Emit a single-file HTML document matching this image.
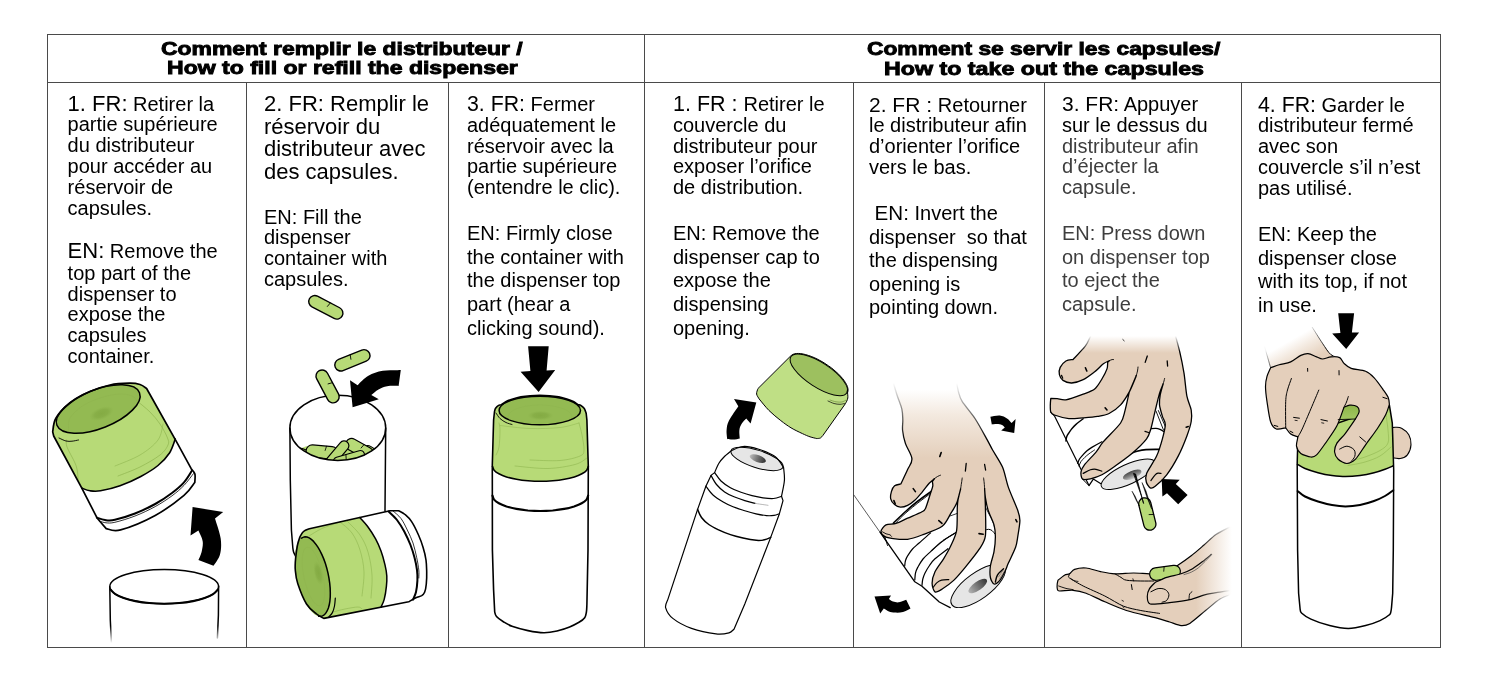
<!DOCTYPE html>
<html lang="fr"><head><meta charset="utf-8"><title>Distributeur de capsules</title>
<style>
html,body{margin:0;padding:0;background:#fff;}
#page{position:relative;width:1500px;height:695px;overflow:hidden;background:#fff;font-family:"Liberation Sans",Arial,sans-serif;color:#000;}
.t{position:absolute;white-space:pre;margin:0;}
.t b.n{font-weight:normal;font-size:22px;}
.ln{position:absolute;background:#4a4a4a;}
.h{position:absolute;white-space:pre;font-weight:bold;font-size:18.5px;line-height:20px;-webkit-text-stroke:0.9px #000;transform-origin:0 0;will-change:transform;}
#art{position:absolute;left:0;top:0;}
#txt{position:absolute;left:0;top:0;width:1500px;height:695px;will-change:transform;}

</style></head>
<body>
<div id="page">
<div class="ln" style="left:46.5px;top:34px;width:1394.5px;height:1.2px"></div>
<div class="ln" style="left:46.5px;top:82px;width:1394.5px;height:1.2px"></div>
<div class="ln" style="left:46.5px;top:646.5px;width:1394.5px;height:1.2px"></div>
<div class="ln" style="left:46.5px;top:34px;width:1.2px;height:613px"></div>
<div class="ln" style="left:1439.6px;top:34px;width:1.2px;height:613px"></div>
<div class="ln" style="left:643.5px;top:34px;width:1.2px;height:613px"></div>
<div class="ln" style="left:246px;top:82px;width:1.2px;height:565px"></div>
<div class="ln" style="left:448px;top:82px;width:1.2px;height:565px"></div>
<div class="ln" style="left:853px;top:82px;width:1.2px;height:565px"></div>
<div class="ln" style="left:1044px;top:82px;width:1.2px;height:565px"></div>
<div class="ln" style="left:1241px;top:82px;width:1.2px;height:565px"></div>
<div class="h" id="h1a" style="left:161.4px;top:39.09px;transform:scaleX(1.2387);">Comment remplir le distributeur /</div>
<div class="h" id="h1b" style="left:166.6px;top:58.29px;transform:scaleX(1.2453);">How to fill or refill the dispenser</div>
<div class="h" id="h2a" style="left:866.6px;top:39.09px;transform:scaleX(1.2315);">Comment se servir les capsules/</div>
<div class="h" id="h2b" style="left:883.5px;top:59.09px;transform:scaleX(1.2553);">How to take out the capsules</div>

<div id="txt">
<div class="t" style="left:67.6px;top:91.57px;font-size:20px;line-height:24.0px;"><span style="font-size:22px">1. FR:</span> Retirer la</div>
<div class="t" style="left:67.6px;top:112.37px;font-size:20px;line-height:24.0px;">partie supérieure</div>
<div class="t" style="left:67.6px;top:133.17px;font-size:20px;line-height:24.0px;">du distributeur</div>
<div class="t" style="left:67.6px;top:153.97px;font-size:20px;line-height:24.0px;">pour accéder au</div>
<div class="t" style="left:67.6px;top:174.77px;font-size:20px;line-height:24.0px;">réservoir de</div>
<div class="t" style="left:67.6px;top:195.57px;font-size:20px;line-height:24.0px;">capsules.</div>
<div class="t" style="left:67.6px;top:239.07px;font-size:20px;line-height:24.0px;"><span style="font-size:22px">EN:</span> Remove the</div>
<div class="t" style="left:67.6px;top:260.77px;font-size:20px;line-height:24.0px;">top part of the</div>
<div class="t" style="left:67.6px;top:281.52px;font-size:20px;line-height:24.0px;">dispenser to</div>
<div class="t" style="left:67.6px;top:302.27px;font-size:20px;line-height:24.0px;">expose the</div>
<div class="t" style="left:67.6px;top:323.02px;font-size:20px;line-height:24.0px;">capsules</div>
<div class="t" style="left:67.6px;top:343.77px;font-size:20px;line-height:24.0px;">container.</div>
<div class="t" style="left:264px;top:90.88px;font-size:22px;line-height:26.4px;">2. FR: Remplir le</div>
<div class="t" style="left:264px;top:113.68px;font-size:22px;line-height:26.4px;">réservoir du</div>
<div class="t" style="left:264px;top:136.48px;font-size:22px;line-height:26.4px;">distributeur avec</div>
<div class="t" style="left:264px;top:159.28px;font-size:22px;line-height:26.4px;">des capsules.</div>
<div class="t" style="left:264px;top:204.67px;font-size:20px;line-height:24.0px;">EN: Fill the</div>
<div class="t" style="left:264px;top:225.47px;font-size:20px;line-height:24.0px;">dispenser</div>
<div class="t" style="left:264px;top:246.27px;font-size:20px;line-height:24.0px;">container with</div>
<div class="t" style="left:264px;top:267.07px;font-size:20px;line-height:24.0px;">capsules.</div>
<div class="t" style="left:467px;top:92.07px;font-size:20px;line-height:24.0px;"><span style="font-size:21.3px">3. FR:</span> Fermer</div>
<div class="t" style="left:467px;top:112.87px;font-size:20px;line-height:24.0px;">adéquatement le</div>
<div class="t" style="left:467px;top:133.67px;font-size:20px;line-height:24.0px;">réservoir avec la</div>
<div class="t" style="left:467px;top:154.47px;font-size:20px;line-height:24.0px;">partie supérieure</div>
<div class="t" style="left:467px;top:175.27px;font-size:20px;line-height:24.0px;">(entendre le clic).</div>
<div class="t" style="left:467px;top:221.07px;font-size:20px;line-height:24.0px;">EN: Firmly close</div>
<div class="t" style="left:467px;top:244.72px;font-size:20px;line-height:24.0px;">the container with</div>
<div class="t" style="left:467px;top:268.37px;font-size:20px;line-height:24.0px;">the dispenser top</div>
<div class="t" style="left:467px;top:292.02px;font-size:20px;line-height:24.0px;">part (hear a</div>
<div class="t" style="left:467px;top:315.67px;font-size:20px;line-height:24.0px;">clicking sound).</div>
<div class="t" style="left:673px;top:92.07px;font-size:20px;line-height:24.0px;"><span style="font-size:21.5px">1. FR : </span>Retirer le</div>
<div class="t" style="left:673px;top:112.87px;font-size:20px;line-height:24.0px;">couvercle du</div>
<div class="t" style="left:673px;top:133.67px;font-size:20px;line-height:24.0px;">distributeur pour</div>
<div class="t" style="left:673px;top:154.47px;font-size:20px;line-height:24.0px;">exposer l’orifice</div>
<div class="t" style="left:673px;top:175.27px;font-size:20px;line-height:24.0px;">de distribution.</div>
<div class="t" style="left:673px;top:221.07px;font-size:20px;line-height:24.0px;">EN: Remove the</div>
<div class="t" style="left:673px;top:244.72px;font-size:20px;line-height:24.0px;">dispenser cap to</div>
<div class="t" style="left:673px;top:268.37px;font-size:20px;line-height:24.0px;">expose the</div>
<div class="t" style="left:673px;top:292.02px;font-size:20px;line-height:24.0px;">dispensing</div>
<div class="t" style="left:673px;top:315.67px;font-size:20px;line-height:24.0px;">opening.</div>
<div class="t" style="left:869px;top:92.57px;font-size:20px;line-height:24.0px;"><span style="font-size:21px">2. FR : </span>Retourner</div>
<div class="t" style="left:869px;top:113.37px;font-size:20px;line-height:24.0px;">le distributeur afin</div>
<div class="t" style="left:869px;top:134.17px;font-size:20px;line-height:24.0px;">d’orienter l’orifice</div>
<div class="t" style="left:869px;top:154.97px;font-size:20px;line-height:24.0px;">vers le bas.</div>
<div class="t" style="left:869px;top:200.87px;font-size:20px;line-height:24.0px;"> <span style="font-size:20.6px">EN:</span> Invert the</div>
<div class="t" style="left:869px;top:224.52px;font-size:20px;line-height:24.0px;">dispenser  so that</div>
<div class="t" style="left:869px;top:248.17px;font-size:20px;line-height:24.0px;">the dispensing</div>
<div class="t" style="left:869px;top:271.82px;font-size:20px;line-height:24.0px;">opening is</div>
<div class="t" style="left:869px;top:295.47px;font-size:20px;line-height:24.0px;">pointing down.</div>
<div class="t" style="left:1062px;top:92.07px;font-size:20px;line-height:24.0px;"><span style="font-size:21px">3. FR:</span> Appuyer</div>
<div class="t" style="left:1062px;top:112.87px;font-size:20px;line-height:24.0px;">sur le dessus du</div>
<div class="t" style="left:1062px;top:133.67px;font-size:20px;line-height:24.0px;color:#3e3e3e;">distributeur afin</div>
<div class="t" style="left:1062px;top:154.47px;font-size:20px;line-height:24.0px;color:#3e3e3e;">d’éjecter la</div>
<div class="t" style="left:1062px;top:175.27px;font-size:20px;line-height:24.0px;color:#3e3e3e;">capsule.</div>
<div class="t" style="left:1062px;top:221.07px;font-size:20px;line-height:24.0px;color:#3e3e3e;">EN: Press down</div>
<div class="t" style="left:1062px;top:244.72px;font-size:20px;line-height:24.0px;color:#3e3e3e;">on dispenser top</div>
<div class="t" style="left:1062px;top:268.37px;font-size:20px;line-height:24.0px;color:#3e3e3e;">to eject the</div>
<div class="t" style="left:1062px;top:292.02px;font-size:20px;line-height:24.0px;color:#3e3e3e;">capsule.</div>
<div class="t" style="left:1258px;top:92.57px;font-size:20px;line-height:24.0px;"><span style="font-size:21.3px">4. FR:</span> Garder le</div>
<div class="t" style="left:1258px;top:113.37px;font-size:20px;line-height:24.0px;">distributeur fermé</div>
<div class="t" style="left:1258px;top:134.17px;font-size:20px;line-height:24.0px;">avec son</div>
<div class="t" style="left:1258px;top:154.97px;font-size:20px;line-height:24.0px;">couvercle s’il n’est</div>
<div class="t" style="left:1258px;top:175.77px;font-size:20px;line-height:24.0px;">pas utilisé.</div>
<div class="t" style="left:1258px;top:222.07px;font-size:20px;line-height:24.0px;">EN: Keep the</div>
<div class="t" style="left:1258px;top:245.72px;font-size:20px;line-height:24.0px;">dispenser close</div>
<div class="t" style="left:1258px;top:269.37px;font-size:20px;line-height:24.0px;">with its top, if not</div>
<div class="t" style="left:1258px;top:293.02px;font-size:20px;line-height:24.0px;">in use.</div>
</div>
<svg id="art" width="1500" height="695" viewBox="0 0 1500 695">
<g id="p1" stroke-linecap="round" stroke-linejoin="round">
<defs><radialGradient id="spotG"><stop offset="0" stop-color="#84ab43"/><stop offset="0.55" stop-color="#86ad46" stop-opacity="0.85"/><stop offset="1" stop-color="#8cb34b" stop-opacity="0"/></radialGradient></defs>
<path d="M52.7,431.9C53.2,429.6 53.1,422.8 56,418C58.9,413.2 64.3,407.4 70,403C75.7,398.6 83.3,394.5 90,391.5C96.7,388.5 103.5,386.4 110,385C116.5,383.6 124.3,383.3 129.3,383.2C134.3,383.1 137.1,383.6 140,384.5C142.9,385.4 145.5,387.8 146.6,388.5L177,442.6L191.2,468.7C191.8,469.6 194.3,471.7 194.9,474C195.5,476.3 194.8,481 194.8,482.4C193,484.5 190.6,489.8 184,495.3C177.4,500.8 165.8,509.7 155.2,515.5C144.6,521.3 128.8,527.7 120.6,529.9C112.4,532.1 108.6,528.8 106.2,528.6L99.8,521.2L96.9,517.6L81.8,488.1L53.7,436Z" fill="#fff"/>
<path d="M52.7,431.9C53.2,429.6 53.1,422.8 56,418C58.9,413.2 64.3,407.4 70,403C75.7,398.6 83.3,394.5 90,391.5C96.7,388.5 103.5,386.4 110,385C116.5,383.6 124.3,383.3 129.3,383.2C134.3,383.1 137.1,383.6 140,384.5C142.9,385.4 145.5,387.8 146.6,388.5L175.3,439C174.3,441.3 172.4,448.6 169.5,453C166.6,457.4 162.8,461.6 158,465.5C153.2,469.4 147.1,473.1 140.8,476.5C134.5,479.9 126.7,483.4 120,485.8C113.3,488.2 105.5,490 100.5,490.8C95.5,491.6 93.1,491.2 90,490.8C86.9,490.4 83.2,488.6 81.8,488.1L53.7,436Z" fill="#b7da77"/>
<ellipse cx="98.2" cy="409" rx="44.4" ry="19.3" fill="#93ba52" transform="rotate(-21.6 98.2 409)"/>
<path d="M68.5,431C68.8,428.8 67.4,422.3 70,418C72.6,413.7 78.2,408.6 84,405C89.8,401.4 98.7,398.3 105,396.5C111.3,394.7 117.3,394 122,394C126.7,394 130.5,395.3 133,396.5C135.5,397.7 136.3,400.2 137,401" fill="none" stroke="#8fb54f" stroke-width="0.7"/>
<ellipse cx="101.5" cy="413.5" rx="13" ry="6.2" fill="url(#spotG)" transform="rotate(-20.8 101.5 413.5)"/>
<path d="M137,401C139.2,402.8 146.2,408.2 150,412C153.8,415.8 157.1,419.7 160,424C162.9,428.3 166.2,434.5 167.5,438C168.8,441.5 169.2,442.2 168,445C166.8,447.8 164.7,451.3 160,455C155.3,458.7 147,463.5 140,467C133,470.5 121.7,474.5 118,476" fill="none" stroke="#8fb54f" stroke-width="0.7"/>
<path d="M66.5,440C66.6,441.2 65.6,443.2 67,447C68.4,450.8 73.2,458.8 75,463C76.8,467.2 77,469.2 77.5,472C78,474.8 77.9,478.7 78,480" fill="none" stroke="#8fb54f" stroke-width="0.7"/>
<path d="M163,424C162.2,426.7 161.8,434.8 158,440C154.2,445.2 147.2,450.7 140,455C132.8,459.3 119.2,464.2 115,466" fill="none" stroke="#8fb54f" stroke-width="0.6"/>
<path d="M52.7,431.9C53.2,429.6 53.1,422.8 56,418C58.9,413.2 64.3,407.4 70,403C75.7,398.6 83.3,394.5 90,391.5C96.7,388.5 103.5,386.4 110,385C116.5,383.6 124.3,383.3 129.3,383.2C134.3,383.1 137.1,383.6 140,384.5C142.9,385.4 145.5,387.8 146.6,388.5L177,442.6L191.2,468.7C191.8,469.6 194.3,471.7 194.9,474C195.5,476.3 194.8,481 194.8,482.4C193,484.5 190.6,489.8 184,495.3C177.4,500.8 165.8,509.7 155.2,515.5C144.6,521.3 128.8,527.7 120.6,529.9C112.4,532.1 108.6,528.8 106.2,528.6L99.8,521.2L96.9,517.6L81.8,488.1L53.7,436Z" fill="none" stroke="#000" stroke-width="1.7"/>
<path d="M175.3,439C174.3,441.3 172.4,448.6 169.5,453C166.6,457.4 162.8,461.6 158,465.5C153.2,469.4 147.1,473.1 140.8,476.5C134.5,479.9 126.7,483.4 120,485.8C113.3,488.2 105.5,490 100.5,490.8C95.5,491.6 93.1,491.2 90,490.8C86.9,490.4 83.2,488.6 81.8,488.1" fill="none" stroke="#000" stroke-width="1.6"/>
<ellipse cx="98.2" cy="409" rx="44.4" ry="19.3" fill="none" stroke="#000" stroke-width="1.5" transform="rotate(-21.6 98.2 409)"/>
<path d="M59,438C60.2,438.5 63.8,440.5 66,441C68.2,441.5 69.9,441.4 72,441.2C74.1,441 77.4,440.2 78.5,440" fill="none" stroke="#000" stroke-width="0.9"/>
<path d="M96.9,517.6C98.2,518 102,519.6 105,520C108,520.4 109.9,520.9 114.9,519.8C119.9,518.7 128.3,516.1 135,513.5C141.7,510.9 149,507.4 155.2,504C161.4,500.6 167.2,496.6 172,493C176.8,489.4 180.7,486.1 184,482.4C187.3,478.7 190.6,472.7 191.9,470.8" fill="none" stroke="#000" stroke-width="2.0"/>
<path d="M99.8,521.2C100.8,521.5 103.5,522.6 106,522.8C108.5,523 110.1,523.4 114.9,522.3C119.7,521.2 128.3,518.6 135,516C141.7,513.4 149,510 155.2,506.6C161.4,503.2 167.2,499.3 172,495.8C176.8,492.3 180.4,489.1 184,485.4C187.6,481.7 191.8,475.6 193.4,473.7" fill="none" stroke="#000" stroke-width="0.8"/>
<path d="M192.6,507.1L223.2,511.9L215,518.4C215.9,521.8 219.9,532.5 220.7,538.5C221.5,544.5 221.2,549.9 220,554.4C218.8,558.9 214.6,563.9 213.5,565.8L198.4,560C198.9,558.7 200.9,555.1 201.6,552C202.3,548.9 203.2,545 202.7,541.4C202.2,537.8 199.1,532.4 198.4,530.6L190.5,535.6Z" fill="#000"/>
<path d="M109.8,586.7L111.3,642L217.4,637L218.6,586Z" fill="#fff"/>
<ellipse cx="164.2" cy="586.6" rx="54.4" ry="17.1" fill="#fff" stroke="#000" stroke-width="1.4"/>
<path d="M217.8,589.6C217,590.3 215.3,592.7 213.1,594.1C210.9,595.5 208,596.9 204.6,598C201.3,599.2 197.3,600.3 193,601.1C188.8,601.9 184,602.6 179.2,603C174.4,603.5 169.2,603.7 164.2,603.7C159.2,603.7 154,603.5 149.2,603C144.4,602.6 139.6,601.9 135.4,601.1C131.1,600.3 127.1,599.2 123.8,598C120.4,596.9 117.5,595.5 115.3,594.1C113.1,592.7 111.4,590.3 110.6,589.6" fill="none" stroke="#000" stroke-width="2.1"/>
<defs><linearGradient id="fadeB" x1="0" y1="586" x2="0" y2="643" gradientUnits="userSpaceOnUse"><stop offset="0" stop-color="#000"/><stop offset="0.7" stop-color="#000"/><stop offset="1" stop-color="#000" stop-opacity="0"/></linearGradient></defs>
<path d="M109.8,586.7L110.3,620L111.4,643" fill="none" stroke="url(#fadeB)" stroke-width="1.5"/>
<path d="M218.6,586L218.4,615L217.4,638" fill="none" stroke="url(#fadeB)" stroke-width="1.5"/>
</g>
<g id="p2" stroke-linecap="round" stroke-linejoin="round">
<g transform="translate(325.8 307.3) rotate(27.5)"><path d="M-12.5,-6L12.5,-6A6,6 0 0 1 12.5,6L-12.5,6A6,6 0 0 1 -12.5,-6Z" fill="#b7da77" stroke="#000" stroke-width="1.4"/><path d="M2,-6L1,-1.5" fill="none" stroke="#000" stroke-width="0.8"/></g>
<g transform="translate(352.4 360.3) rotate(-22)"><path d="M-12.5,-6L12.5,-6A6,6 0 0 1 12.5,6L-12.5,6A6,6 0 0 1 -12.5,-6Z" fill="#b7da77" stroke="#000" stroke-width="1.4"/><path d="M0,-6L-1,-1.5" fill="none" stroke="#000" stroke-width="0.8"/></g>
<path d="M289.9,428L290.3,480L291.4,530L292.8,547.5C292.9,548.2 293.1,550.5 293.6,552C294.1,553.5 295.4,555.8 295.7,556.5L385,556L385.7,428Z" fill="#fff"/>
<ellipse cx="337.8" cy="427.9" rx="47.9" ry="32.6" fill="#fff"/>
<defs><clipPath id="cpile"><ellipse cx="337.8" cy="427.9" rx="47.9" ry="32.6"/></clipPath></defs>
<g clip-path="url(#cpile)">
<path d="M300,450C300.9,447.6 305.5,446.2 309,446C312.5,445.8 331.7,448.2 335,448C338.3,447.8 340.2,444.6 342,444C343.8,443.4 350,440.8 353,441.5C356,442.2 370.1,448.1 372,451C373.9,453.9 379.2,468.1 372,470C364.8,471.9 307.2,472 300,470C292.8,468 299.1,452.4 300,450Z" fill="#b7da77"/>
<g transform="translate(304 454) rotate(20)"><path d="M-3.5,-4.5L3.5,-4.5A4.5,4.5 0 0 1 3.5,4.5L-3.5,4.5A4.5,4.5 0 0 1 -3.5,-4.5Z" fill="#b7da77" stroke="#000" stroke-width="1.1"/></g>
<g transform="translate(374 455) rotate(32)"><path d="M-7.5,-5.5L7.5,-5.5A5.5,5.5 0 0 1 7.5,5.5L-7.5,5.5A5.5,5.5 0 0 1 -7.5,-5.5Z" fill="#b7da77" stroke="#000" stroke-width="1.1"/><path d="M-2,-5.5L-3,-1" fill="none" stroke="#000" stroke-width="0.8"/></g>
<g transform="translate(359.5 448.8) rotate(29)"><path d="M-9,-6L9,-6A6,6 0 0 1 9,6L-9,6A6,6 0 0 1 -9,-6Z" fill="#b7da77" stroke="#000" stroke-width="1.2"/><path d="M2,-6L1,-1.5" fill="none" stroke="#000" stroke-width="0.8"/></g>
<g transform="translate(322 452) rotate(5)"><path d="M-9.8,-6.2L9.8,-6.2A6.2,6.2 0 0 1 9.8,6.2L-9.8,6.2A6.2,6.2 0 0 1 -9.8,-6.2Z" fill="#b7da77" stroke="#000" stroke-width="1.2"/><path d="M4,-6.2L3,-1.8" fill="none" stroke="#000" stroke-width="0.8"/></g>
<g transform="translate(337.5 453.5) rotate(-50)"><path d="M-10.2,-4.8L10.2,-4.8A4.8,4.8 0 0 1 10.2,4.8L-10.2,4.8A4.8,4.8 0 0 1 -10.2,-4.8Z" fill="#b7da77" stroke="#000" stroke-width="1.2"/></g>
<g transform="translate(349 458) rotate(-16)"><path d="M-11.8,-4.2L11.8,-4.2A4.2,4.2 0 0 1 11.8,4.2L-11.8,4.2A4.2,4.2 0 0 1 -11.8,-4.2Z" fill="#b7da77" stroke="#000" stroke-width="1.1"/><path d="M-2,-4.2L-3,0.2" fill="none" stroke="#000" stroke-width="0.8"/></g>
</g>
<ellipse cx="337.8" cy="427.9" rx="47.9" ry="32.6" fill="none" stroke="#000" stroke-width="1.5"/>
<path d="M289.9,428L290.3,480L291.4,530L292.8,547.5C292.9,548.2 293.1,550.5 293.6,552C294.1,553.5 295.4,555.8 295.7,556.5" fill="none" stroke="#000" stroke-width="1.5"/>
<path d="M385.7,428L385,511" fill="none" stroke="#000" stroke-width="1.5"/>
<g transform="translate(327.6 386.4) rotate(62)"><path d="M-11.7,-6.1L11.7,-6.1A6.1,6.1 0 0 1 11.7,6.1L-11.7,6.1A6.1,6.1 0 0 1 -11.7,-6.1Z" fill="#b7da77" stroke="#000" stroke-width="1.4"/><path d="M-1,-6.1L-2,-1.6" fill="none" stroke="#000" stroke-width="0.8"/></g>
<path d="M400.8,370.1C397.8,370.2 388.2,369.9 382.8,370.8C377.4,371.8 372.6,373.4 368.4,375.8C364.2,378.2 359.4,383.6 357.6,385.2L350,380.2L352.6,407.2L378.8,399.2L371.3,395C372.5,394.1 375.9,391 378.5,389.5C381.1,388 383.8,386.8 387.1,386.2C390.5,385.6 396.7,385.9 398.6,385.9Z" fill="#000"/>
<path d="M300,536.7C300.6,535.8 301.9,532.8 303.5,531.5C305.1,530.2 308.4,529.2 309.4,528.8L390,510.8L398.7,510.8C399.8,511.4 402.9,512.7 405,514.5C407.1,516.3 409.4,518.2 411.6,521.6C413.9,525 416.6,530.7 418.5,535C420.4,539.3 421.9,543.3 423.1,547.5C424.4,551.7 425.4,555.9 426,560C426.6,564.1 426.6,568 426.7,572C426.8,576 426.6,580.6 426.3,584C426,587.4 425.4,590.3 424.6,592.2C423.8,594.1 423.1,594.7 421.7,595.6C420.2,596.5 418.1,596.7 415.9,597.7C413.7,598.7 409.9,601.1 408.7,601.8L323.8,618.4C322.6,617.7 319.5,616.4 316.6,614C313.7,611.6 309.6,609 306.5,604C303.4,599 299.7,589.5 297.8,583.8C295.9,578.1 295.7,574.4 295.3,570C294.9,565.6 295.3,561.8 295.7,557.6C296.1,553.4 296.8,548.5 297.5,545C298.2,541.5 299.6,538.1 300,536.7Z" fill="#fff"/>
<path d="M300,536.7C300.6,535.8 301.9,532.8 303.5,531.5C305.1,530.2 308.4,529.2 309.4,528.8L359.8,517.6C361.2,519.2 365.4,523.5 368,527C370.6,530.5 373.4,534.9 375.6,538.9C377.8,542.9 379.4,546.7 381,551C382.6,555.3 384,560.6 385,564.8C386,569 386.6,572.4 386.8,576C387,579.6 386.8,582.5 386.4,586.4C386,590.3 385.1,595.9 384.2,599.4C383.3,602.9 381.5,605.9 381,607.2L323.8,618.4C322.6,617.7 319.5,616.4 316.6,614C313.7,611.6 309.6,609 306.5,604C303.4,599 299.7,589.5 297.8,583.8C295.9,578.1 295.7,574.4 295.3,570C294.9,565.6 295.3,561.8 295.7,557.6C296.1,553.4 296.8,548.5 297.5,545C298.2,541.5 299.6,538.1 300,536.7Z" fill="#b7da77"/>
<ellipse cx="312.6" cy="576.6" rx="15.8" ry="40.6" fill="#93ba52" transform="rotate(-12.5 312.6 576.6)"/>
<ellipse cx="318.5" cy="573" rx="4.6" ry="12.5" fill="url(#spotG)" transform="rotate(-12.5 318.5 573)"/>
<ellipse cx="313.5" cy="576.5" rx="9.5" ry="30" fill="none" stroke="#8fb54f" stroke-width="0.6" transform="rotate(-12.5 313.5 576.5)"/>
<path d="M340,522C342,523.8 348.7,528.3 352,533C355.3,537.7 358,543.5 360,550C362,556.5 363.7,564.3 364,572C364.3,579.7 362.3,592 362,596" fill="none" stroke="#8fb54f" stroke-width="0.6"/>
<path d="M347,521C349.2,523.3 356.5,529.8 360,535C363.5,540.2 366,545.3 368,552C370,558.7 371.5,567.3 372,575C372.5,582.7 371.2,594.2 371,598" fill="none" stroke="#8fb54f" stroke-width="0.6"/>
<path d="M309,536C311.2,534.8 316.8,530.8 322,528.5C327.2,526.2 337,523.1 340,522" fill="none" stroke="#8fb54f" stroke-width="0.6"/>
<path d="M333,612C335,611.5 340.8,609.8 345,609C349.2,608.2 355.2,607 358,607C360.8,607 361.3,608.7 362,609" fill="none" stroke="#8fb54f" stroke-width="0.6"/>
<path d="M300,536.7C300.6,535.8 301.9,532.8 303.5,531.5C305.1,530.2 308.4,529.2 309.4,528.8L390,510.8L398.7,510.8C399.8,511.4 402.9,512.7 405,514.5C407.1,516.3 409.4,518.2 411.6,521.6C413.9,525 416.6,530.7 418.5,535C420.4,539.3 421.9,543.3 423.1,547.5C424.4,551.7 425.4,555.9 426,560C426.6,564.1 426.6,568 426.7,572C426.8,576 426.6,580.6 426.3,584C426,587.4 425.4,590.3 424.6,592.2C423.8,594.1 423.1,594.7 421.7,595.6C420.2,596.5 418.1,596.7 415.9,597.7C413.7,598.7 409.9,601.1 408.7,601.8L323.8,618.4C322.6,617.7 319.5,616.4 316.6,614C313.7,611.6 309.6,609 306.5,604C303.4,599 299.7,589.5 297.8,583.8C295.9,578.1 295.7,574.4 295.3,570C294.9,565.6 295.3,561.8 295.7,557.6C296.1,553.4 296.8,548.5 297.5,545C298.2,541.5 299.6,538.1 300,536.7Z" fill="none" stroke="#000" stroke-width="1.6"/>
<path d="M359.8,517.6C361.2,519.2 365.4,523.5 368,527C370.6,530.5 373.4,534.9 375.6,538.9C377.8,542.9 379.4,546.7 381,551C382.6,555.3 384,560.6 385,564.8C386,569 386.6,572.4 386.8,576C387,579.6 386.8,582.5 386.4,586.4C386,590.3 385.1,595.9 384.2,599.4C383.3,602.9 381.5,605.9 381,607.2" fill="none" stroke="#000" stroke-width="1.5"/>
<path d="M301.3,538.2C301.9,537.9 303.7,536.9 305,536.8C306.3,536.8 307.8,537.2 309.2,537.9C310.6,538.7 312.1,539.9 313.6,541.4C315,543 316.5,544.9 317.9,547.1C319.3,549.3 320.7,551.9 321.9,554.6C323.2,557.4 324.4,560.4 325.4,563.5C326.4,566.6 327.3,569.9 328,573.2C328.7,576.4 329.3,579.8 329.7,583.1C330.1,586.3 330.3,589.6 330.3,592.6C330.4,595.6 330.2,598.5 329.9,601.1C329.6,603.6 329,606 328.4,608C327.7,610 326.8,611.8 325.8,613.1C324.9,614.4 323.7,615.3 322.5,615.9C321.3,616.4 319.2,616.2 318.6,616.2" fill="none" stroke="#000" stroke-width="1.5"/>
<path d="M335.3,598.2C335.2,599.5 335,603.6 334.5,606C334,608.4 333.4,610.7 332.4,612.6C331.4,614.5 329.1,616.5 328.5,617.3" fill="none" stroke="#000" stroke-width="1.2"/>
<path d="M388.6,511.5C390,512.9 394.4,516.6 397,520C399.6,523.4 402.1,527.5 404.4,531.7C406.6,535.9 408.8,540.7 410.5,545C412.2,549.3 413.4,553.4 414.5,557.6C415.6,561.8 416.5,566.2 417,570C417.5,573.8 417.6,576.9 417.4,580.6C417.2,584.3 416.7,588.8 416,592C415.3,595.2 413.5,598.3 413,599.6" fill="none" stroke="#000" stroke-width="2.0"/>
<path d="M393,511C394.3,512.2 398.6,515.3 401,518.5C403.4,521.7 405.3,525.9 407.3,530C409.3,534.1 411.4,538.4 413,543C414.6,547.6 415.7,553.1 416.7,557.6C417.7,562.1 418.4,566.6 418.8,570C419.2,573.4 418.8,576.7 418.8,578" fill="none" stroke="#000" stroke-width="0.8"/>
</g>
<g id="p3" stroke-linecap="round" stroke-linejoin="round">
<path d="M528.1,346.2 L548.7,346.2 L546.6,370.5 L555.2,370 L538.6,391.9 L520.6,371.7 L530.4,371Z" fill="#000"/>
<path d="M494.5,411.5L493.6,420L492.3,465L492.4,550L493.6,590L494.7,612C495,612.8 495.1,614.9 496.5,616.5C497.9,618.1 500.4,619.9 503,621.5C505.6,623.1 507.8,624.8 512,626.3C516.2,627.8 522.7,629.5 528,630.6C533.3,631.7 538.9,632.7 543.7,632.8C548.5,632.9 552.7,632 557,631C561.3,630 565.9,628.5 569.6,627C573.3,625.5 576.5,623.8 579,622.3C581.5,620.8 583.5,619.4 584.7,617.7C585.9,616 586,614.2 586.4,612C586.8,609.8 586.8,605.9 586.9,604.7L588,550L588.3,466L586.9,420L586.2,413.5C585.9,412.7 585.2,409.9 584.3,408.5C583.3,407.1 581.5,405.8 580.5,405.2C579.5,404.6 579.3,405.2 578.1,404.6C576.9,404 575.3,402.5 573.4,401.5C571.5,400.6 569.2,399.7 566.8,398.9C564.3,398.2 561.6,397.5 558.7,396.9C555.8,396.4 552.7,396 549.5,395.7C546.4,395.4 543,395.3 539.8,395.3C536.6,395.3 533.2,395.4 530.1,395.7C526.9,396 523.8,396.4 520.9,396.9C518,397.5 515.3,398.2 512.8,398.9C510.4,399.7 508.1,400.6 506.2,401.5C504.3,402.5 502.8,404 501.5,404.6C500.2,405.3 499.6,404.8 498.6,405.4C497.6,406 496.3,407.3 495.6,408.3C494.9,409.3 494.7,411 494.5,411.5Z" fill="#fff"/>
<path d="M494.5,411.5L493.6,420L492.4,466.4C492.8,467 493.1,469 494.1,470.2C495.2,471.5 496.9,472.7 498.9,473.8C501,474.9 503.6,476 506.5,476.9C509.5,477.8 512.9,478.6 516.5,479.2C520,479.9 524,480.4 528,480.7C532,481 536.3,481.2 540.4,481.2C544.5,481.2 548.8,481 552.8,480.7C556.8,480.4 560.8,479.9 564.4,479.2C567.9,478.6 571.3,477.8 574.3,476.9C577.2,476 579.8,474.9 581.9,473.8C583.9,472.7 585.6,471.5 586.7,470.2C587.7,469 588,467 588.3,466.4L586.9,420L586.2,413.5C585.9,412.7 585.2,409.9 584.3,408.5C583.3,407.1 581.5,405.8 580.5,405.2C579.5,404.6 579.3,405.2 578.1,404.6C576.9,404 575.3,402.5 573.4,401.5C571.5,400.6 569.2,399.7 566.8,398.9C564.3,398.2 561.6,397.5 558.7,396.9C555.8,396.4 552.7,396 549.5,395.7C546.4,395.4 543,395.3 539.8,395.3C536.6,395.3 533.2,395.4 530.1,395.7C526.9,396 523.8,396.4 520.9,396.9C518,397.5 515.3,398.2 512.8,398.9C510.4,399.7 508.1,400.6 506.2,401.5C504.3,402.5 502.8,404 501.5,404.6C500.2,405.3 499.6,404.8 498.6,405.4C497.6,406 496.3,407.3 495.6,408.3C494.9,409.3 494.7,411 494.5,411.5Z" fill="#b7da77"/>
<ellipse cx="539.8" cy="410.5" rx="40.7" ry="14.3" fill="#93ba52"/>
<ellipse cx="540.5" cy="415.5" rx="13" ry="4.8" fill="url(#spotG)"/>
<path d="M508,417C508.3,416.4 508.5,414.5 509.6,413.3C510.6,412.1 512.2,410.9 514.1,409.9C516,408.9 518.5,408 521.2,407.3C523.9,406.6 527,406 530.1,405.6C533.2,405.2 536.7,405 540,405C543.3,405 546.8,405.2 549.9,405.6C553,406 556.1,406.6 558.8,407.3C561.5,408 564,408.9 565.9,409.9C567.8,410.9 569.4,412.1 570.4,413.3C571.5,414.5 571.7,416.4 572,417" fill="none" stroke="#8fb54f" stroke-width="0.6"/>
<path d="M499,423C499.2,424.2 500,426 500,430C500,434 499.7,442.8 499,447C498.3,451.2 496.5,453.7 496,455" fill="none" stroke="#8fb54f" stroke-width="0.6"/>
<path d="M579,423C579.5,425 581.2,430.5 582,435C582.8,439.5 584.3,446.5 584,450C583.7,453.5 584,454.2 580,456C576,457.8 568.3,459.8 560,460.5C551.7,461.2 535,460.1 530,460" fill="none" stroke="#8fb54f" stroke-width="0.6"/>
<path d="M587,458C585,459.1 581.5,462.8 575,464.5C568.5,466.2 558,468.2 548,468.5C538,468.8 520.5,466.4 515,466" fill="none" stroke="#8fb54f" stroke-width="0.6"/>
<path d="M500,425.5C505,426 520,428.2 530,428.5C540,428.8 551.8,428.4 560,427.5C568.2,426.6 575.8,423.8 579,423" fill="none" stroke="#8fb54f" stroke-width="0.5"/>
<path d="M494.5,411.5L493.6,420L492.3,465L492.4,550L493.6,590L494.7,612C495,612.8 495.1,614.9 496.5,616.5C497.9,618.1 500.4,619.9 503,621.5C505.6,623.1 507.8,624.8 512,626.3C516.2,627.8 522.7,629.5 528,630.6C533.3,631.7 538.9,632.7 543.7,632.8C548.5,632.9 552.7,632 557,631C561.3,630 565.9,628.5 569.6,627C573.3,625.5 576.5,623.8 579,622.3C581.5,620.8 583.5,619.4 584.7,617.7C585.9,616 586,614.2 586.4,612C586.8,609.8 586.8,605.9 586.9,604.7L588,550L588.3,466L586.9,420L586.2,413.5C585.9,412.7 585.2,409.9 584.3,408.5C583.3,407.1 581.5,405.8 580.5,405.2C579.5,404.6 579.3,405.2 578.1,404.6C576.9,404 575.3,402.5 573.4,401.5C571.5,400.6 569.2,399.7 566.8,398.9C564.3,398.2 561.6,397.5 558.7,396.9C555.8,396.4 552.7,396 549.5,395.7C546.4,395.4 543,395.3 539.8,395.3C536.6,395.3 533.2,395.4 530.1,395.7C526.9,396 523.8,396.4 520.9,396.9C518,397.5 515.3,398.2 512.8,398.9C510.4,399.7 508.1,400.6 506.2,401.5C504.3,402.5 502.8,404 501.5,404.6C500.2,405.3 499.6,404.8 498.6,405.4C497.6,406 496.3,407.3 495.6,408.3C494.9,409.3 494.7,411 494.5,411.5Z" fill="none" stroke="#000" stroke-width="1.6"/>
<ellipse cx="539.8" cy="410.5" rx="40.7" ry="14.3" fill="none" stroke="#000" stroke-width="1.5"/>
<path d="M588.3,466.4C588,467 587.7,469 586.7,470.2C585.6,471.5 583.9,472.7 581.9,473.8C579.8,474.9 577.2,476 574.3,476.9C571.3,477.8 567.9,478.6 564.4,479.2C560.8,479.9 556.8,480.4 552.8,480.7C548.8,481 544.5,481.2 540.4,481.2C536.3,481.2 532,481 528,480.7C524,480.4 520,479.9 516.5,479.2C512.9,478.6 509.5,477.8 506.5,476.9C503.6,476 501,474.9 498.9,473.8C496.9,472.7 495.2,471.5 494.1,470.2C493.1,469 492.8,467 492.5,466.4" fill="none" stroke="#000" stroke-width="1.6"/>
<path d="M588.1,495.6C587.8,496.3 587.5,498.3 586.5,499.6C585.4,500.9 583.8,502.1 581.7,503.3C579.6,504.5 577,505.5 574.1,506.5C571.2,507.4 567.8,508.3 564.2,508.9C560.6,509.6 556.7,510.1 552.7,510.5C548.7,510.8 544.4,511 540.3,511C536.2,511 531.9,510.8 527.9,510.5C523.9,510.1 520,509.6 516.4,508.9C512.8,508.3 509.4,507.4 506.5,506.5C503.6,505.5 501,504.5 498.9,503.3C496.8,502.1 495.2,500.9 494.1,499.6C493.1,498.3 492.8,496.3 492.5,495.6" fill="none" stroke="#000" stroke-width="2.2"/>
<path d="M496,413C496.7,413.9 498.3,416.9 500,418.5C501.7,420.1 504,421.5 506,422.5C508,423.5 511,424.2 512,424.5" fill="none" stroke="#000" stroke-width="0.9"/>
</g>
<g id="p4" stroke-linecap="round" stroke-linejoin="round">
<path d="M757.8,389C757.6,389.8 756.4,392.3 756.6,394C756.8,395.7 758.8,398.2 759.2,399C760.8,400.9 765.4,406.9 769,410.5C772.6,414.1 777.1,417.7 780.8,420.6C784.5,423.5 787.4,425.6 791,427.8C794.6,430 799.2,432.1 802.4,433.6C805.6,435.1 807.6,436 810,436.8C812.4,437.6 815.7,438.3 816.8,438.6C817.4,438.5 819.4,438.5 820.4,438C821.4,437.5 822.4,436 822.8,435.6L845.6,403.4C846,402.5 847.5,400.1 847.8,398C848.1,395.9 847.4,392.2 847.3,391C847.4,391.3 847.5,392.8 847.6,392.7C847.7,392.5 848.1,390.9 848.1,389.9C848.1,388.9 847.8,387.7 847.4,386.5C847,385.3 846.3,384 845.5,382.7C844.7,381.3 843.7,379.9 842.6,378.5C841.4,377.1 840.1,375.6 838.7,374.2C837.2,372.8 835.6,371.3 833.9,369.9C832.3,368.5 830.5,367.1 828.6,365.9C826.8,364.6 824.8,363.3 822.9,362.1C821,361 819,359.9 817,358.9C815.1,358 813.1,357.1 811.2,356.4C809.3,355.7 807.4,355.1 805.7,354.6C803.9,354.1 802.2,353.8 800.7,353.6C799.2,353.4 797.7,353.4 796.4,353.5C795.2,353.6 794,353.9 793.1,354.3C792.2,354.7 791.2,355.6 790.8,355.9Z" fill="#bfdf85" stroke="#000" stroke-width="1.0"/>
<ellipse cx="818.8" cy="374.9" rx="33.3" ry="12.2" fill="#9dc05f" stroke="#000" stroke-width="1.0" transform="rotate(33 818.8 374.9)"/>
<path d="M828,401C829,401.4 832,402.9 834,403.5C836,404.1 838.2,404.3 840,404.3C841.8,404.3 843.8,403.6 844.5,403.5" fill="none" stroke="#000" stroke-width="0.7"/>
<path d="M830,400C831,400.3 834,401.5 836,401.8C838,402.1 840.3,402.3 842,402C843.7,401.7 845.3,400.3 846,400" fill="none" stroke="#5f7f30" stroke-width="0.6"/>
<path d="M756.3,402.6L734,399L738.3,406.2C736.8,408.6 731,416.6 729,420.6C727,424.6 726.9,426.9 726.6,430C726.3,433.1 727.1,437.5 727.2,439C728.2,439.1 730.9,439.7 733,439.6C735.1,439.5 738.7,438.6 739.8,438.4C739.7,437 739.1,432.4 739.4,430C739.7,427.6 740.4,425.9 741.5,424C742.6,422.1 745.4,419.4 746.2,418.5L750.6,423.5Z" fill="#000"/>
<path d="M731.5,450.6C730.2,451.7 726.1,454.9 724,457C721.9,459.1 720.5,460.6 718.9,463.2C717.3,465.8 715.3,471 714.6,472.6L711,475.4L705.9,486.2L697.6,509.4L667.8,599.6C667.5,600.8 664.9,604.8 665.6,607.6C666.4,610.4 668.9,615.3 672.8,618.4C676.7,621.5 685,626.1 691.5,628.4C698,630.7 710.4,633.2 716,633.9C721.6,634.6 726.3,633.5 729,632.8C731.7,632.1 733.2,629.7 734,629.2L744.8,604L770.7,537.4L779.4,513.7L783,500.6L781.5,496.3C782,493.7 784,485.3 784.4,480.5C784.8,475.7 783.7,469.7 783.6,467.5C782.2,465.7 779.3,459.6 775,456.5C770.7,453.4 763.3,450.7 758,449C752.7,447.3 747.4,446.2 743,446.5C738.6,446.8 733.4,449.9 731.5,450.6Z" fill="#fff"/>
<defs><linearGradient id="holeG" x1="0" x2="1" y1="0" y2="0"><stop offset="0" stop-color="#bdbdbd"/><stop offset="0.55" stop-color="#6a6a6a"/><stop offset="1" stop-color="#2e2e2e"/></linearGradient></defs>
<ellipse cx="757" cy="458.9" rx="27.3" ry="8.7" fill="#e6e6e6" stroke="#000" stroke-width="1.0" transform="rotate(17.7 757 458.9)"/>
<ellipse cx="757.8" cy="458.6" rx="8.5" ry="3.5" fill="url(#holeG)" transform="rotate(20 757.8 458.6)"/>
<path d="M731.5,450.6C730.2,451.7 726.1,454.9 724,457C721.9,459.1 720.5,460.6 718.9,463.2C717.3,465.8 715.3,471 714.6,472.6L711,475.4L705.9,486.2L697.6,509.4L667.8,599.6C667.5,600.8 664.9,604.8 665.6,607.6C666.4,610.4 668.9,615.3 672.8,618.4C676.7,621.5 685,626.1 691.5,628.4C698,630.7 710.4,633.2 716,633.9C721.6,634.6 726.3,633.5 729,632.8C731.7,632.1 733.2,629.7 734,629.2L744.8,604L770.7,537.4L779.4,513.7L783,500.6L781.5,496.3C782,493.7 784,485.3 784.4,480.5C784.8,475.7 783.7,469.7 783.6,467.5C782.2,465.7 779.3,459.6 775,456.5C770.7,453.4 763.3,450.7 758,449C752.7,447.3 747.4,446.2 743,446.5C738.6,446.8 733.4,449.9 731.5,450.6Z" fill="none" stroke="#000" stroke-width="1.2"/>
<path d="M714.6,472.6C715.7,474 718.4,478.5 721,481C723.6,483.5 727.1,485.8 730.4,487.7C733.7,489.6 737.4,491 741,492.3C744.6,493.6 748.3,494.7 752,495.6C755.7,496.5 759.4,497.3 763,497.8C766.6,498.3 770.5,498.8 773.6,498.5C776.7,498.2 780.2,496.7 781.5,496.3" fill="none" stroke="#000" stroke-width="1.2"/>
<path d="M711,475.4C711.9,476.9 714.2,481.7 716.5,484.5C718.8,487.3 721.7,489.9 724.6,492C727.5,494.1 730.6,495.4 734,496.8C737.4,498.2 741.3,499.5 744.8,500.6C748.3,501.7 753.3,502.9 755,503.3" fill="none" stroke="#000" stroke-width="1.2"/>
<path d="M755,503.3C756,503.5 758.8,504 761,504.3C763.2,504.6 766.8,505.1 768,505.3" fill="none" stroke="#999" stroke-width="0.7"/>
<path d="M705.9,486.2C707.1,487.7 710.1,492.4 713,495C715.9,497.6 719.9,500.1 723.2,502.1C726.5,504.1 729.4,505.4 733,506.8C736.6,508.2 741,509.5 744.8,510.7C748.6,511.9 752.4,513 756,513.8C759.6,514.6 763.4,515.3 766.4,515.6C769.4,515.9 771.8,515.7 774,515.4C776.2,515.1 778.5,514 779.4,513.7" fill="none" stroke="#000" stroke-width="1.2"/>
<path d="M697.6,509.4C698.2,510.8 699.6,515 701.5,517.5C703.4,520 706,522.5 708.8,524.5C711.5,526.5 714.4,527.9 718,529.6C721.6,531.3 726.2,533.2 730.4,534.6C734.6,536 738.7,537 743,538C747.3,539 752.7,540 756.3,540.3C759.9,540.6 762.1,540.3 764.5,539.8C766.9,539.3 769.7,537.8 770.7,537.4" fill="none" stroke="#000" stroke-width="1.5"/>
</g>
<g id="p5" stroke-linecap="round" stroke-linejoin="round">
<defs>
<linearGradient id="armF5" x1="0" y1="380" x2="0" y2="458" gradientUnits="userSpaceOnUse"><stop offset="0" stop-color="#fff"/><stop offset="0.12" stop-color="#fff"/><stop offset="0.45" stop-color="#f3e9df"/><stop offset="1" stop-color="#e4cfbb"/></linearGradient>
<linearGradient id="armS5" x1="0" y1="383" x2="0" y2="440" gradientUnits="userSpaceOnUse"><stop offset="0" stop-color="#000" stop-opacity="0"/><stop offset="0.3" stop-color="#000" stop-opacity="0.3"/><stop offset="1" stop-color="#000"/></linearGradient>
<linearGradient id="holeG5" x1="0" x2="1" y1="0" y2="0"><stop offset="0" stop-color="#b5b5b5"/><stop offset="0.6" stop-color="#666"/><stop offset="1" stop-color="#333"/></linearGradient>
</defs>
<path d="M990.4,416.8C992,416.6 997,415.3 999.8,415.6C1002.6,415.9 1005,417.3 1007,418.5C1009,419.7 1010.8,422.2 1011.6,423L1015.6,419L1014.2,432.9L1001.2,430.5L1004.8,427.6C1004.3,427.2 1003.3,425.6 1002,425C1000.7,424.4 998.7,424.1 997,424C995.3,423.9 992.7,424.3 991.8,424.4Z" fill="#000"/>
<path d="M874.5,596.5L891,595.5L888.9,599.1C889.6,599.5 891.3,601.1 893,601.6C894.7,602.1 896.8,602.6 899,602.3C901.2,602 905,600.2 906.2,599.8L910.5,608.5C909.2,609.1 905.6,611.3 903,612C900.4,612.7 897.4,612.7 895,612.6C892.6,612.5 890.8,612.1 888.9,611.4C887,610.7 884.6,609 883.8,608.5L880.2,613.5Z" fill="#000"/>
<path d="M853.6,494.6L914.8,581.8L922,586.2L939.3,602L950.8,606L1003,578L985,500L932,489Z" fill="#fff"/>
<ellipse cx="978.1" cy="585.9" rx="32.3" ry="12.9" fill="#e6e6e6" stroke="#000" stroke-width="1.0" transform="rotate(-36 978.1 585.9)"/>
<ellipse cx="977.8" cy="586" rx="11" ry="4.4" fill="url(#holeG5)" transform="rotate(-35 977.8 586)"/>
<path d="M853.6,494.6L880,532.2" fill="none" stroke="#333" stroke-width="0.8"/>
<path d="M880,532.2L914.8,581.8L922,586.2L939.3,602L950.2,607.6" fill="none" stroke="#000" stroke-width="1.3"/>
<path d="M904.7,566C904.8,565.1 905,562.2 905.5,560.5C906,558.8 906.4,557.8 907.6,555.9C908.8,554 910.6,551.1 912.5,549C914.4,546.9 916.1,545.7 919.1,543C922.1,540.3 928.7,534.6 930.6,532.9" fill="none" stroke="#000" stroke-width="1.2"/>
<path d="M914.8,580C914.9,578.8 915,575.1 915.5,573C916,570.9 916.5,569.7 917.7,567.4C919,565.1 920.9,561.6 923,559C925.1,556.4 927.4,554.5 930.6,551.6C933.8,548.7 937.7,544.7 942,541.5C946.3,538.3 954.2,533.8 956.6,532.2" fill="none" stroke="#000" stroke-width="1.2"/>
<path d="M922,585.3C922.1,584.2 922.3,581 922.8,579C923.3,577 923.8,575.5 924.9,573.2C926,571 927.8,567.9 929.5,565.5C931.2,563.1 931.9,561.6 935,558.8C938.1,556 945.8,550.4 947.9,548.7" fill="none" stroke="#000" stroke-width="1.2"/>
<path d="M956.6,532.2C955.2,533.1 950.8,535.6 948,537.5C945.2,539.4 942.7,541.3 940,543.5C937.3,545.7 933.3,549.3 932,550.5" fill="none" stroke="#000" stroke-width="0.6"/>
<path d="M931.8,491C929.5,492.7 922.5,497.5 918,501C913.5,504.5 909.1,508.3 905,512C900.9,515.7 895.4,521.2 893.5,523" fill="none" stroke="#000" stroke-width="1.6"/>
<path d="M930.5,493.5C928.1,495.3 920.6,500.8 916,504.5C911.4,508.2 906.5,512.2 903,515.5C899.5,518.8 896.3,522.6 895,524" fill="none" stroke="#000" stroke-width="0.9"/>
<path d="M881,532.5L886.5,541.5M884.8,536.6L887.5,545.5" fill="none" stroke="#000" stroke-width="0.9"/>
<path d="M985.4,507C986,508.2 987.7,511.5 989,514C990.3,516.5 991.9,519.2 993,522C994.1,524.8 995.1,529.5 995.5,531" fill="none" stroke="#000" stroke-width="0.8"/>
<path d="M985.4,530C985.9,529.9 987.4,529.2 988.5,529.3C989.6,529.4 990.9,529.7 992,530.5C993.1,531.3 994.5,533.4 995,534" fill="none" stroke="#000" stroke-width="1.0"/>
<path d="M950,516L957,513.5M943.5,540L957.5,531.6" fill="none" stroke="#000" stroke-width="0.8"/>
<path d="M892,378C892.8,380.8 895.4,389.9 897,395C898.6,400.1 900.8,404.7 901.8,408.9C902.8,413.1 902.7,416.4 902.8,420C902.9,423.6 902.2,426.6 902.6,430.5C903,434.4 903.9,438.7 905.4,443.4C906.9,448.1 911.5,454.2 911.9,458.6C912.3,463 909.5,465.3 907.6,469.5C905.8,473.7 901.9,481.6 900.8,484C899.8,484.3 896.2,484.5 894.6,485.8C893,487.1 892,489.4 891.4,491.6C890.8,493.8 890.2,496.6 890.7,498.8C891.2,501 893,503.2 894.6,504.6C896.2,506 898.2,507 900.4,507.1C902.6,507.2 905.2,506.5 907.6,505.3C910,504.1 912.4,502.4 914.8,500.2C917.2,498 919.6,495.1 922,492.3C924.4,489.5 927.1,485.6 929.2,483.3C931.3,481 933.6,479.4 934.5,478.6L932.3,481.5C932.4,482.1 933,484.2 932.8,485.8C932.6,487.4 931.6,489.9 930.6,493C929.6,496.1 926.8,505.6 925.6,508.2C924.4,510.8 924.5,510.4 922,511.8C919.5,513.2 911.2,516.6 907.6,518.2C904,519.8 899.1,522.5 896.1,523.4C893.1,524.3 888.1,523.8 886,524.9C883.9,526 881.2,529.8 881,531.4C880.8,533 882.9,535.4 884.6,536.4C886.3,537.4 890,538.2 893.2,538.6C896.4,539 903.6,539.8 907.6,539.3C911.6,538.8 917.2,536.8 922,535C926.8,533.2 938.2,529.3 942.2,526.3C946.2,523.3 948.8,516.6 950.8,513.4C952.8,510.2 955.2,506.7 956.6,503.3C958,499.9 960,491 960.6,489C960.2,490.5 958.5,497.4 958,500C957.5,502.6 957.5,503.3 957.3,507.6C957.1,511.9 957.5,525.3 956.6,530.6C955.7,535.9 952.6,541.9 950.8,545.8C949,549.7 945.8,555.2 943.6,558.8C941.4,562.4 936.6,568.4 935,571.8C933.4,575.2 932.1,580.5 932.1,583.3C932.1,586.1 933.6,591.1 935,591.9C936.4,592.7 939.6,590.6 942.2,589C944.8,587.4 950.5,583.4 953.7,580.4C956.9,577.4 961.6,571.8 965.2,567.4C968.8,563 976.8,553.1 979.6,548.7C982.4,544.3 984.6,541.6 985.4,535.8C986.2,530 985.5,514.2 985.4,507.6C985.3,501 984.7,491.2 984.6,488.5C984.7,489.8 984.9,494.4 985.4,497.5C985.9,500.6 987,506.7 988.2,510.5C989.4,514.3 993,521.3 994,524.9C995,528.5 995.4,532.7 995.4,536.4C995.4,540.1 994.7,547.5 994,551.6C993.3,555.7 990.9,562.4 990.4,566C989.9,569.6 989.9,575 990.4,577.5C990.9,580 992.7,583.6 994,584C995.3,584.4 998.3,582.1 999.8,580.4C1001.3,578.7 1003.6,574.2 1004.8,571.8C1006,569.4 1006.9,566.5 1008.4,563.1C1009.9,559.7 1014.3,551 1015.6,547.3C1016.9,543.6 1017.2,540.1 1017.8,536.4C1018.4,532.7 1019.9,524.2 1019.9,520.6C1019.9,517 1019.4,515.1 1017.8,510.5C1016.2,505.9 1010.5,493.4 1008.4,487.4C1006.3,481.4 1004.8,472.5 1002.6,467.3C1000.4,462.1 994.8,453.9 992.6,450C990.4,446.1 989.2,443.4 986.8,439.1C984.4,434.8 978.7,424.2 975.3,419C971.9,413.8 964.7,405.5 962.3,401.7C959.9,397.9 959.4,395.3 958.5,392C957.6,388.7 956.2,380 955.8,378Z" fill="url(#armF5)" stroke="url(#armS5)" stroke-width="1.3"/>
<path d="M960.6,489C960.8,488 961.2,484.8 961.5,483C961.8,481.2 962.1,478.8 962.2,478" fill="none" stroke="#000" stroke-width="0.9"/>
<path d="M984.6,488.5C984.5,487.6 984.4,484.8 984.2,483C984,481.2 983.7,478.8 983.6,478" fill="none" stroke="#000" stroke-width="0.9"/>
<path d="M934.5,478.6C935,478.2 936.5,477.1 937.5,476.5C938.5,475.9 940,475.4 940.5,475.2" fill="none" stroke="#000" stroke-width="0.9"/>
<path d="M941.2,452.5L939.8,456.5" fill="none" stroke="#000" stroke-width="1.6"/>
<path d="M966.2,463.5L965.4,471" fill="none" stroke="#000" stroke-width="1.3"/>
<path d="M984.6,464.5L985.6,470" fill="none" stroke="#000" stroke-width="1.3"/>
<path d="M913.2,488.6L915.4,491.6" fill="none" stroke="#000" stroke-width="1.6"/>
<path d="M893.9,500.6L895.2,503.8" fill="none" stroke="#000" stroke-width="1.6"/>
<path d="M938.8,520.6L942,523.3" fill="none" stroke="#000" stroke-width="1.6"/>
<path d="M1015.8,519.6L1017,521.8" fill="none" stroke="#000" stroke-width="1.6"/>
<path d="M979,533.6L983.2,534.2" fill="none" stroke="#000" stroke-width="1.6"/>
<path d="M933.4,587C934,586.3 935.6,583.7 937,582.6C938.4,581.5 939.6,580.7 941.6,580.2C943.6,579.7 947.6,579.7 948.8,579.6" fill="none" stroke="#000" stroke-width="1.2"/>
<path d="M995.4,582C995.6,581.2 996.1,578.4 996.6,577C997.1,575.6 997.5,574.8 998.6,573.4C999.8,572 1002.7,569.5 1003.5,568.7" fill="none" stroke="#000" stroke-width="1.4"/>
<path d="M999.5,579L1004.5,571M1001,580L1005.5,572.6M998.5,577L1003,570.5" fill="none" stroke="#444" stroke-width="0.5"/>
<path d="M882.5,531.8C883.1,532.1 884.8,533.3 886,533.8C887.2,534.3 889.1,534.4 890,534.8C890.9,535.2 891.2,536.1 891.5,536.4" fill="none" stroke="#000" stroke-width="0.9"/>
</g>
<g id="p6" stroke-linecap="round" stroke-linejoin="round">
<defs>
<linearGradient id="armF6" x1="0" y1="336" x2="0" y2="353" gradientUnits="userSpaceOnUse"><stop offset="0" stop-color="#fff"/><stop offset="1" stop-color="#e4cfbb"/></linearGradient>
<linearGradient id="armS6" x1="0" y1="336" x2="0" y2="352" gradientUnits="userSpaceOnUse"><stop offset="0" stop-color="#000" stop-opacity="0"/><stop offset="1" stop-color="#000"/></linearGradient>
<linearGradient id="palmF6" x1="1196" y1="0" x2="1232" y2="0" gradientUnits="userSpaceOnUse"><stop offset="0" stop-color="#e4cfbb"/><stop offset="1" stop-color="#fff"/></linearGradient>
<linearGradient id="palmS6" x1="1200" y1="0" x2="1230" y2="0" gradientUnits="userSpaceOnUse"><stop offset="0" stop-color="#000"/><stop offset="1" stop-color="#000" stop-opacity="0"/></linearGradient>
<linearGradient id="holeG6" x1="0" x2="0" y1="0" y2="1"><stop offset="0" stop-color="#444"/><stop offset="0.6" stop-color="#8a8a8a"/><stop offset="1" stop-color="#c8c8c8"/></linearGradient>
</defs>
<path d="M1054.4,415.8L1089,485.6L1093.3,479.1L1100.5,483.4L1150,487L1165,440L1120,400Z" fill="#fff"/>
<ellipse cx="1128.2" cy="474.3" rx="29.4" ry="9.9" fill="#e6e6e6" stroke="#000" stroke-width="1.0" transform="rotate(-24.7 1128.2 474.3)"/>
<ellipse cx="1132.2" cy="474.8" rx="9.9" ry="3.9" fill="url(#holeG6)" transform="rotate(-22 1132.2 474.8)"/>
<path d="M1050.8,412.1L1054.4,415.8L1089,485.6L1093.3,479.1L1100.5,483.6" fill="none" stroke="#000" stroke-width="1.2"/>
<path d="M1082.5,479.1L1089,485.6" fill="none" stroke="#000" stroke-width="1.0"/>
<path d="M1065.9,441C1066.1,440.2 1066.3,437.8 1066.8,436.5C1067.3,435.2 1067.9,434.3 1068.8,433C1069.7,431.7 1070.8,429.9 1072,428.5C1073.2,427.1 1074.1,426 1076,424.4C1077.9,422.8 1082,419.7 1083.2,418.8" fill="none" stroke="#000" stroke-width="1.4"/>
<path d="M1077.7,463.3C1078,462.6 1078.6,460.4 1079.5,459C1080.4,457.6 1082,456 1083.2,454.6C1084.5,453.2 1085.6,452 1087,450.8C1088.4,449.6 1089.3,448.9 1091.8,447.4C1094.3,445.9 1100.2,442.6 1101.9,441.7" fill="none" stroke="#000" stroke-width="1.3"/>
<path d="M1079,466C1079.3,465.2 1080,462.9 1081,461.5C1082,460.1 1083.5,458.7 1084.8,457.4C1086.1,456.1 1087.4,455 1089,453.8C1090.6,452.6 1093.6,450.6 1094.5,450" fill="none" stroke="#000" stroke-width="0.9"/>
<path d="M1129.5,454C1130.8,453.5 1134.2,451.9 1137,451.2C1139.8,450.5 1142.2,449.9 1146,449.6C1149.8,449.3 1157.2,449.4 1159.5,449.4" fill="none" stroke="#000" stroke-width="1.6"/>
<path d="M1150.9,428.7C1151.8,428.6 1154.5,428.3 1156,428.4C1157.5,428.5 1158.7,428.9 1160,429.4C1161.3,429.9 1163.2,431.2 1163.8,431.6" fill="none" stroke="#000" stroke-width="1.3"/>
<path d="M1156,411L1163.5,430M1158.3,410.5L1165.5,427" fill="none" stroke="#000" stroke-width="0.9"/>
<path d="M1121.5,404C1121.9,403.2 1123.2,400.4 1124,399C1124.8,397.6 1126.1,396.1 1126.5,395.5" fill="none" stroke="#000" stroke-width="0.9"/>
<path d="M1091.5,334C1090.8,335.6 1088.4,341.1 1087,343.5C1085.6,345.9 1085.5,346 1083.2,348.7C1080.9,351.4 1074.8,357.7 1073.1,359.5C1071.9,359.8 1068.1,359.7 1065.9,361C1063.8,362.3 1061.3,365.1 1060.2,367.4C1059.1,369.7 1058.9,372.4 1059.4,374.6C1059.9,376.8 1061,379 1063,380.4C1065,381.8 1068.3,383.1 1071.7,383C1075.1,382.9 1079.4,381.6 1083.2,379.7C1087,377.8 1091.3,374.4 1094.7,371.8C1098.1,369.2 1100.9,365.7 1103.4,363.8C1105.9,361.9 1108.5,361.1 1109.5,360.6L1107.7,362.4C1107.6,363.3 1107.8,366.6 1107,368.9C1106.2,371.2 1103.6,376.2 1101.9,379C1100.2,381.8 1097.3,386.9 1094.7,389C1092.1,391.1 1087.2,392.6 1083.2,394.1C1079.2,395.6 1069.5,399.2 1065.9,399.8C1062.3,400.4 1059.4,398.8 1057.3,398.6C1055.2,398.4 1051.7,398.4 1050.8,398.4C1050.7,399.3 1050.3,403.1 1050.3,405C1050.3,406.9 1050.2,410.7 1050.8,412.1C1051.4,413.5 1051.9,414.1 1054.4,415C1056.9,415.9 1064.8,418.2 1068.8,418.6C1072.8,419 1079.2,418.1 1083.2,417.8C1087.2,417.5 1094,417 1097.6,416.4C1101.2,415.8 1105.9,415.1 1109.1,413.5C1112.3,411.9 1117.8,407.9 1120.6,404.9C1123.4,401.9 1127.3,395.5 1129.3,391.9C1131.3,388.3 1134,381.3 1135,379C1136,376.7 1136.1,376 1136.3,375.5L1129.3,391.9C1128.7,394.5 1126.2,406.2 1125,410.6C1123.8,415 1123.6,418.6 1120.6,423C1117.6,427.4 1106.8,437.7 1103.4,441.7C1100,445.7 1098.8,448.6 1096.2,451.8C1093.6,455 1086.7,461.9 1084.6,464.7C1082.5,467.5 1081.3,469.9 1081,471.9C1080.7,473.9 1081.2,478.1 1082.5,479.1C1083.8,480.1 1087.7,479.4 1090.4,478.8C1093.1,478.2 1098.5,476.6 1101.9,474.8C1105.3,473 1110.7,469.2 1114.9,466.2C1119.1,463.2 1127.8,457 1132.2,453.2C1136.6,449.4 1144,442.2 1146.6,438.8C1149.2,435.4 1149.7,432.6 1150.9,428.7C1152.1,424.8 1154,415.5 1155.2,410.6C1156.4,405.7 1158.4,397.1 1159.5,393.4C1160.6,389.7 1162.6,385.3 1163.1,384C1162.7,385.5 1160.7,392.1 1160.2,395C1159.7,397.9 1159.2,401.9 1159.5,404.9C1159.8,407.9 1161.6,413.7 1162.4,416.4C1163.2,419.1 1165.3,421.3 1165.3,424.4C1165.3,427.5 1163.6,434.4 1162.4,438.8C1161.2,443.2 1158.8,451.3 1156.6,456.1C1154.4,460.9 1148,469.8 1146.6,473.4C1145.2,477 1145.8,480 1146.3,482C1146.8,484 1149,487.2 1150.2,487.8C1151.4,488.4 1152.9,488.1 1155.2,486.3C1157.5,484.5 1163.5,479 1166.7,474.8C1169.9,470.6 1175.4,461.5 1178.2,456.1C1181,450.7 1185.1,440.7 1186.9,435.9C1188.7,431.1 1190.6,425.1 1191.2,421.5C1191.8,417.9 1191.8,413.5 1191.2,410C1190.6,406.5 1187.9,401.4 1186.9,396.2C1185.9,391 1185,379.4 1184,373.2C1183,367 1181,357.1 1179.7,351.6C1178.4,346.1 1175.7,336.5 1175,334Z" fill="url(#armF6)" stroke="url(#armS6)" stroke-width="1.3"/>
<path d="M1136.3,375.5C1136.5,374.8 1137.2,372.4 1137.5,371C1137.8,369.6 1137.9,367.7 1138,367" fill="none" stroke="#000" stroke-width="0.9"/>
<path d="M1109.5,360.6C1109.9,360.4 1111.3,359.8 1112,359.6C1112.7,359.4 1113.2,359.6 1113.5,359.6" fill="none" stroke="#000" stroke-width="0.9"/>
<path d="M1163.1,384C1163.2,383.5 1163.8,381.9 1164,381C1164.2,380.1 1164.5,378.9 1164.6,378.5" fill="none" stroke="#000" stroke-width="0.9"/>
<path d="M1147.3,356L1145.2,362.4" fill="none" stroke="#000" stroke-width="1.3"/>
<path d="M1167.2,361L1167.6,366" fill="none" stroke="#000" stroke-width="1.3"/>
<path d="M1085.4,367.8L1086.8,371" fill="none" stroke="#000" stroke-width="1.6"/>
<path d="M1061.6,375.4L1062.7,378.2" fill="none" stroke="#000" stroke-width="1.3"/>
<path d="M1105.1,407.8L1107,410" fill="none" stroke="#000" stroke-width="1.6"/>
<path d="M1186.2,427.2L1188.3,426.5" fill="none" stroke="#000" stroke-width="1.5"/>
<path d="M1145,431.3L1148.5,432.5" fill="none" stroke="#000" stroke-width="1.3"/>
<path d="M1122.8,339.5L1124.2,340.8" fill="none" stroke="#000" stroke-width="0.8"/>
<path d="M1083.2,473.4C1084.4,472.8 1088.3,470.5 1090.4,469.8C1092.5,469.1 1094.1,469.1 1096,469.3C1097.9,469.5 1100.9,470.9 1101.9,471.2" fill="none" stroke="#000" stroke-width="1.2"/>
<path d="M1150.9,480.6C1151.6,479.6 1154,476 1155.2,474.8C1156.4,473.6 1157,473.4 1158,473.2C1159,473 1160.5,473.4 1161,473.4" fill="none" stroke="#000" stroke-width="1.2"/>
<path d="M1161.7,479.1 L1179.7,479.8 L1175.8,484 L1187.6,495 L1178.2,504.3 L1167,493.2 L1162.4,496.4Z" fill="#000"/>
<g transform="translate(1147.3 514) rotate(76)"><path d="M-10.4,-6.1L10.4,-6.1A6.1,6.1 0 0 1 10.4,6.1L-10.4,6.1A6.1,6.1 0 0 1 -10.4,-6.1Z" fill="#b7da77" stroke="#000" stroke-width="1.3"/><path d="M2,-6.1L1,-1.6" fill="none" stroke="#000" stroke-width="0.8"/></g>
<path d="M1133.8,473.5L1135.6,474L1143.6,503.5L1141.4,496Z" fill="#000" stroke="#000" stroke-width="0.8"/>
<path d="M1142.2,482.9L1146,491L1151.6,508.8L1147,497.5Z" fill="#000" stroke="#000" stroke-width="0.5"/>
<path d="M1132.2,491.5L1135,496L1139.4,506L1136.3,500.5Z" fill="#000" stroke="#000" stroke-width="0.5"/>
<path d="M1058,580.2C1058.9,579.5 1062.9,576.1 1064.5,575.2C1066.1,574.3 1068.1,574.6 1069.5,573.8C1070.9,573 1072.3,570.2 1074.6,569.4C1076.9,568.6 1082.5,567.7 1086.1,568C1089.7,568.3 1096.5,570.8 1100.5,571.6C1104.5,572.4 1110.3,573.6 1114.9,573.8C1119.5,574 1128.8,573 1133.6,573C1138.4,573 1145,573.7 1149.4,573.8C1153.8,573.9 1161,575.2 1165,574C1169,572.8 1174.5,567.6 1178.2,565.1C1181.9,562.6 1187.6,558.6 1191.2,555.8C1194.8,553 1200.5,548 1204,545C1207.5,542 1212.1,537.2 1216,534.5C1219.9,531.8 1229.8,527.2 1232,526L1232,594C1230.3,594.7 1223.7,596.7 1220,599C1216.3,601.3 1209.8,607.1 1205.6,610.5C1201.4,613.9 1193.2,621.3 1189.8,623.4C1186.4,625.5 1183.9,625.8 1181.1,625.6C1178.3,625.4 1173.2,623.1 1169.6,622C1166,620.9 1161.2,619.3 1155.2,617.7C1149.2,616.1 1133.5,612.7 1126.4,610.5C1119.3,608.3 1110.4,604.2 1104.8,601.8C1099.2,599.4 1090.5,594.8 1086.1,593.2C1081.7,591.6 1076.8,590.6 1073.1,590.3C1069.4,590 1061.6,591.2 1059.4,591C1057.2,590.8 1057.6,589.9 1057.3,588.9C1057,587.9 1057.1,585.2 1057.2,584C1057.3,582.8 1057.9,580.7 1058,580.2Z" fill="url(#palmF6)" stroke="url(#palmS6)" stroke-width="1.2"/>
<g transform="translate(1165 572.8) rotate(-8)"><path d="M-9.3,-6.2L9.3,-6.2A6.2,6.2 0 0 1 9.3,6.2L-9.3,6.2A6.2,6.2 0 0 1 -9.3,-6.2Z" fill="#b7da77" stroke="#000" stroke-width="1.2"/><path d="M0,-6.2L-1,-1.7" fill="none" stroke="#000" stroke-width="0.8"/></g>
<path d="M1211.4,554.3C1210.2,555.3 1205.3,559.5 1202.7,561.5C1200.1,563.5 1195.6,567 1192.6,568.7C1189.6,570.4 1184.7,572.6 1181.1,573.8C1177.5,575 1170.3,576.2 1166.7,577.4C1163.1,578.6 1156.8,581.7 1155.2,582.4C1154.4,583.3 1150.5,587 1149.4,588.9C1148.3,590.8 1147.2,594 1147.3,596.1C1147.4,598.2 1147.1,603.1 1150.2,604C1153.3,604.9 1164.1,603.2 1169.6,602.6C1175.1,602 1184.8,600.8 1189.8,599.7C1194.8,598.6 1201.2,595.7 1205.6,594.6C1210,593.5 1218,592.4 1221.4,591.8C1224.8,591.2 1228.8,590.7 1230,590.5L1232,560Z" fill="url(#palmF6)"/>
<path d="M1211.4,554.3C1210.2,555.3 1205.3,559.5 1202.7,561.5C1200.1,563.5 1195.6,567 1192.6,568.7C1189.6,570.4 1184.7,572.6 1181.1,573.8C1177.5,575 1170.3,576.2 1166.7,577.4C1163.1,578.6 1156.8,581.7 1155.2,582.4C1154.4,583.3 1150.5,587 1149.4,588.9C1148.3,590.8 1147.2,594 1147.3,596.1C1147.4,598.2 1147.1,603.1 1150.2,604C1153.3,604.9 1164.1,603.2 1169.6,602.6C1175.1,602 1184.8,600.8 1189.8,599.7C1194.8,598.6 1201.2,595.7 1205.6,594.6C1210,593.5 1218,592.4 1221.4,591.8C1224.8,591.2 1228.8,590.7 1230,590.5" fill="none" stroke="url(#palmS6)" stroke-width="1.2"/>
<path d="M1150.9,591.8C1152.1,591.3 1155.7,589 1158.1,588.6C1160.5,588.2 1163.5,588.6 1165.3,589.6C1167.1,590.6 1168.7,592.8 1168.9,594.6C1169.1,596.4 1167.9,599.1 1166.7,600.4C1165.5,601.7 1162.8,601.9 1162,602.2" fill="none" stroke="#000" stroke-width="1.0"/>
<path d="M1069.5,573.8C1069.4,574.1 1068.8,575.4 1068.8,576C1068.8,576.6 1067.5,576.6 1069.5,578C1071.5,579.4 1078.3,583.5 1083.2,586C1088.1,588.5 1099.2,593.2 1104.8,596C1110.4,598.8 1118.5,604.2 1123.5,606.2C1128.5,608.2 1135.8,609.5 1140.8,610.5C1145.8,611.5 1156.9,613 1159.5,613.4" fill="none" stroke="#000" stroke-width="1.0"/>
<path d="M1070.5,578.4C1071.1,578.8 1072.8,580.1 1074,580.6C1075.2,581.1 1077.3,581.3 1078,581.4" fill="none" stroke="#000" stroke-width="0.8"/>
<path d="M1058.7,586C1059.9,586.4 1063.6,587.8 1066,588.4C1068.4,589 1071.9,589.4 1073.1,589.6" fill="none" stroke="#000" stroke-width="0.9"/>
<path d="M1114.9,573.8C1115.9,574.4 1119.1,576.3 1121,577.4C1122.9,578.5 1123.1,579.6 1126.4,580.2C1129.7,580.8 1136.2,580.9 1140.8,581C1145.4,581.1 1151.6,581 1153.8,581" fill="none" stroke="#000" stroke-width="1.0"/>
<path d="M1131.4,584.6L1132.2,589.6" fill="none" stroke="#000" stroke-width="1.0"/>
<path d="M1132.9,578.8L1133.6,581" fill="none" stroke="#000" stroke-width="0.8"/>
<path d="M1189,599.7C1189.1,598.8 1189.1,595.3 1189.6,594C1190.1,592.7 1191.6,592.2 1192,591.8" fill="none" stroke="#000" stroke-width="0.9"/>
<path d="M1122,600.4L1123.5,601.2" fill="none" stroke="#000" stroke-width="0.8"/>
<path d="M1122.8,606.8L1124,607.6" fill="none" stroke="#000" stroke-width="0.8"/>
<path d="M1211.4,554.9C1210.3,556 1207.2,559.4 1205,561.5C1202.8,563.6 1200.7,566 1198.4,567.8C1196.1,569.6 1193.6,571.1 1191.2,572.2C1188.8,573.3 1185.2,574.2 1184,574.6" fill="none" stroke="#444" stroke-width="0.7"/>
</g>
<g id="p7" stroke-linecap="round" stroke-linejoin="round">
<defs>
<linearGradient id="armF7" x1="1284" y1="336" x2="1301" y2="366" gradientUnits="userSpaceOnUse"><stop offset="0" stop-color="#fff"/><stop offset="0.2" stop-color="#fff"/><stop offset="0.55" stop-color="#f3e9df"/><stop offset="1" stop-color="#e4cfbb"/></linearGradient>
<linearGradient id="armS7" x1="1284" y1="334" x2="1301" y2="364" gradientUnits="userSpaceOnUse"><stop offset="0" stop-color="#000" stop-opacity="0"/><stop offset="0.15" stop-color="#000" stop-opacity="0.05"/><stop offset="0.5" stop-color="#000" stop-opacity="0.5"/><stop offset="1" stop-color="#000"/></linearGradient>
<linearGradient id="gapG7" x1="0" x2="0" y1="0" y2="1"><stop offset="0" stop-color="#8cb548"/><stop offset="1" stop-color="#a3c862"/></linearGradient>
</defs>
<path d="M1338.2,313.2 L1354.1,313.2 L1351.9,332.6 L1359.1,332.4 L1346.2,349 L1332.2,333.4 L1340.4,333.1Z" fill="#000"/>
<path d="M1391,427.8C1391.8,427.7 1393.7,427.1 1395.5,427.2C1397.3,427.3 1399.4,426.9 1401.6,428.2C1403.8,429.4 1407.2,431.9 1408.8,434.7C1410.4,437.5 1411.2,441.4 1411,444.8C1410.8,448.2 1409.2,452.6 1407.4,454.9C1405.6,457.2 1402.9,458.1 1400.2,458.5C1397.5,458.9 1392.5,457.8 1391,457.6Z" fill="#e4cfbb" stroke="#000" stroke-width="1.1"/>
<path d="M1297.9,436.9L1297.2,463L1297.6,550L1298.6,593.2L1300.1,609C1300.3,609.6 1299.9,611.5 1301.5,613C1303.1,614.5 1306.7,617.2 1310.9,619.1C1315.1,621 1324,624.2 1329.6,625.6C1335.2,627 1342.9,628.5 1348.3,628.5C1353.7,628.5 1360.8,626.8 1365.6,625.6C1370.4,624.4 1376.4,622.2 1380,620.6C1383.6,619 1387.8,616.2 1389.4,614.8C1391.1,613.4 1390.7,612.1 1391,611C1391.3,609.9 1391.4,608.1 1391.5,607.6L1392.7,593.2L1393.3,550L1393.7,470L1392.3,423.2L1389.4,405.2Z" fill="#fff"/>
<path d="M1297.9,430L1297.4,464.3C1298.7,465 1301.6,467.1 1305,468.5C1308.4,469.9 1313.5,471.5 1318,472.7C1322.5,473.9 1327.4,474.9 1332,475.5C1336.6,476.1 1340.7,476.6 1345.4,476.6C1350.1,476.6 1355.2,476.2 1360,475.6C1364.8,475 1369.8,473.9 1374,472.8C1378.2,471.8 1381.8,470.5 1385,469.3C1388.2,468.1 1391.9,466.4 1393.3,465.8L1393.7,440L1392.3,423.2L1389.4,405.2L1340,400Z" fill="#b7da77"/>
<path d="M1386,415C1386.3,417.5 1387.7,425.3 1388,430C1388.3,434.7 1389.3,439.6 1388,443C1386.7,446.4 1383.8,448.2 1380,450.5C1376.2,452.8 1370,455.2 1365,457C1360,458.8 1352.5,460.3 1350,461" fill="none" stroke="#8fb54f" stroke-width="0.6"/>
<path d="M1391,447C1389.2,448.5 1384.3,453.5 1380,456C1375.7,458.5 1370.3,460.4 1365,462C1359.7,463.6 1350.8,464.9 1348,465.5" fill="none" stroke="#8fb54f" stroke-width="0.6"/>
<path d="M1297.9,436.9L1297.2,463L1297.6,550L1298.6,593.2L1300.1,609C1300.3,609.6 1299.9,611.5 1301.5,613C1303.1,614.5 1306.7,617.2 1310.9,619.1C1315.1,621 1324,624.2 1329.6,625.6C1335.2,627 1342.9,628.5 1348.3,628.5C1353.7,628.5 1360.8,626.8 1365.6,625.6C1370.4,624.4 1376.4,622.2 1380,620.6C1383.6,619 1387.8,616.2 1389.4,614.8C1391.1,613.4 1390.7,612.1 1391,611C1391.3,609.9 1391.4,608.1 1391.5,607.6L1392.7,593.2L1393.3,550L1393.7,470L1392.3,423.2L1389.4,405.2Z" fill="none" stroke="#000" stroke-width="1.5"/>
<path d="M1297.4,464.3C1298.7,465 1301.6,467.1 1305,468.5C1308.4,469.9 1313.5,471.5 1318,472.7C1322.5,473.9 1327.4,474.9 1332,475.5C1336.6,476.1 1340.7,476.6 1345.4,476.6C1350.1,476.6 1355.2,476.2 1360,475.6C1364.8,475 1369.8,473.9 1374,472.8C1378.2,471.8 1381.8,470.5 1385,469.3C1388.2,468.1 1391.9,466.4 1393.3,465.8" fill="none" stroke="#000" stroke-width="1.5"/>
<path d="M1297.6,491C1298.8,491.9 1301.6,494.8 1305,496.5C1308.4,498.2 1313.5,500.1 1318,501.5C1322.5,502.9 1327.4,504.2 1332,505C1336.6,505.8 1340.7,506.4 1345.4,506.4C1350.1,506.4 1355.2,505.9 1360,505C1364.8,504.1 1369.8,502.5 1374,501C1378.2,499.5 1381.8,497.8 1385,496C1388.2,494.2 1391.9,491.2 1393.3,490.2" fill="none" stroke="#000" stroke-width="2.0"/>
<path d="M1338.2,419.6C1339.1,417.7 1342.3,408.8 1344,406.6C1345.7,404.4 1347.8,405.2 1349.8,405.2C1351.8,405.2 1355.6,405.6 1357,406.6C1358.4,407.6 1359.3,409.9 1359.1,411.7C1358.9,413.5 1356,417.8 1355.5,418.9Z" fill="url(#gapG7)"/>
<path d="M1263,341C1263.8,343.8 1266.4,353.2 1267.7,357.6C1269,362.1 1270.1,366 1270.6,367.7L1300,372L1339.7,357.6C1338.2,357.1 1333.9,357.1 1331,354.7C1328.1,352.3 1325.5,347.8 1322.4,343.2C1319.3,338.6 1314,330 1312.3,327.4Z" fill="url(#armF7)"/>
<path d="M1263,341C1263.8,343.8 1266.4,353.2 1267.7,357.6C1269,362.1 1270.1,366 1270.6,367.7" fill="none" stroke="url(#armS7)" stroke-width="1.0"/>
<path d="M1312.3,327.4C1314,330 1319.3,338.6 1322.4,343.2C1325.5,347.8 1328.1,352.3 1331,354.7C1333.9,357.1 1338.2,357.1 1339.7,357.6" fill="none" stroke="url(#armS7)" stroke-width="1.0"/>
<path d="M1270.6,367.7C1271.9,367.3 1276.2,365.7 1279.2,364.8C1282.2,363.9 1287.5,363.3 1290.7,361.9C1293.9,360.5 1298.2,356.6 1300.8,355.4C1303.4,354.2 1305.6,353.4 1308,353.6C1310.4,353.8 1314.4,356.1 1316.6,356.9C1318.8,357.7 1320.2,359 1322.4,359C1324.6,359 1328.4,357.1 1331,356.9C1333.6,356.7 1337.8,356.6 1339.7,357.6C1341.7,358.6 1342.3,361.8 1344,363.4C1345.7,365 1348,367.2 1351.2,368.4C1354.4,369.6 1362.1,369.9 1365.6,371.3C1369,372.7 1371.6,375.1 1374.2,377.8C1376.8,380.5 1380.8,386.3 1382.9,389.3C1385,392.3 1387.2,395.2 1388.2,397.5C1389.2,399.8 1389.2,403.4 1389.4,404.5C1388.9,405.9 1387.5,411.2 1385.8,414.6C1384.1,418 1379.9,424.8 1377.1,429C1374.3,433.2 1368.6,440.6 1365.6,444.8C1362.6,449 1358.1,456.6 1355.5,459.2C1352.9,461.8 1349.3,463.5 1346.9,463.5C1344.5,463.5 1339.9,460.8 1338.2,459.2C1336.5,457.6 1334.8,454.2 1334.6,452C1334.4,449.8 1335.3,446 1336.8,443.4C1338.3,440.8 1342.8,436.7 1345.4,433.3C1348,429.9 1354.1,420.9 1355.5,418.9C1356,417.8 1358.9,413.5 1359.1,411.7C1359.3,409.9 1358.4,407.6 1357,406.6C1355.6,405.6 1351.8,405.1 1349.8,405.2C1347.8,405.3 1344.9,406.9 1344,407.2C1343,409.8 1339.4,421 1336.8,426.1C1334.2,431.2 1328.1,439.4 1325.3,443.4C1322.5,447.4 1318.6,453 1316.6,454.9C1314.6,456.8 1313.1,457.2 1310.9,457C1308.7,456.8 1302.8,454.9 1300.8,453.4C1298.8,451.9 1296.9,448.5 1296.5,446.2C1296.1,443.9 1297.7,438.2 1297.9,436.9C1296.7,436.4 1292.7,435.5 1290.7,434C1288.7,432.5 1286.5,428.8 1285.7,427.8C1284.3,428 1278.6,429.9 1276.3,429C1274,428.1 1272,425.9 1270.6,421.8C1269.2,417.7 1267.8,406.9 1267,401.6C1266.2,396.3 1265.5,390.2 1265.5,386.4C1265.5,382.6 1266.2,379.1 1267,376.3C1267.8,373.5 1270.1,369 1270.6,367.7Z" fill="#e4cfbb" stroke="#000" stroke-width="1.2"/>
<path d="M1291.4,378.5C1290.8,380.4 1288.5,386.1 1287.5,390C1286.5,393.9 1286,395.4 1285.7,401.6C1285.4,407.9 1285.7,423.2 1285.7,427.5" fill="none" stroke="#000" stroke-width="1.0"/>
<path d="M1318.8,390.1C1317.5,393.2 1313.7,402.3 1310.9,408.8C1308.1,415.3 1304.4,424.3 1302.2,429C1300,433.7 1298.6,435.6 1297.9,436.9" fill="none" stroke="#000" stroke-width="1.0"/>
<path d="M1348.3,396.6C1348,397.5 1347.2,400.2 1346.5,402C1345.8,403.8 1344.4,406.3 1344,407.2" fill="none" stroke="#000" stroke-width="1.0"/>
<path d="M1338.2,419.6L1355.5,419" fill="none" stroke="#000" stroke-width="0.9"/>
<path d="M1339.7,449.1C1340.9,448.6 1344.5,446.1 1346.9,446.2C1349.3,446.3 1352.8,448.1 1354.1,449.8C1355.4,451.5 1355.3,454.4 1354.8,456.3C1354.3,458.2 1351.8,460.5 1351.2,461.4" fill="none" stroke="#000" stroke-width="1.0"/>
<path d="M1307.6,368.4L1307.7,371.3" fill="none" stroke="#000" stroke-width="1.0"/>
<path d="M1339,370.6L1339.1,374.9" fill="none" stroke="#000" stroke-width="1.0"/>
<path d="M1293.6,417.4L1299.4,418.2" fill="none" stroke="#000" stroke-width="1.0"/>
<path d="M1295,420.3L1297.2,420.6" fill="none" stroke="#000" stroke-width="0.8"/>
<path d="M1321,419.6L1327.4,421" fill="none" stroke="#000" stroke-width="1.0"/>
<path d="M1321.7,422.8L1323.8,423.2" fill="none" stroke="#000" stroke-width="0.8"/>
<path d="M1359.8,436.9L1365.6,441.9" fill="none" stroke="#000" stroke-width="1.0"/>
<path d="M1274.2,425.4L1277.8,426.4" fill="none" stroke="#000" stroke-width="1.0"/>
<path d="M1290,431.1L1292.9,432.6" fill="none" stroke="#000" stroke-width="1.0"/>
<path d="M1382.9,397.3L1387.2,398.7" fill="none" stroke="#000" stroke-width="1.0"/>
</g>

</svg>
</div>
</body></html>
